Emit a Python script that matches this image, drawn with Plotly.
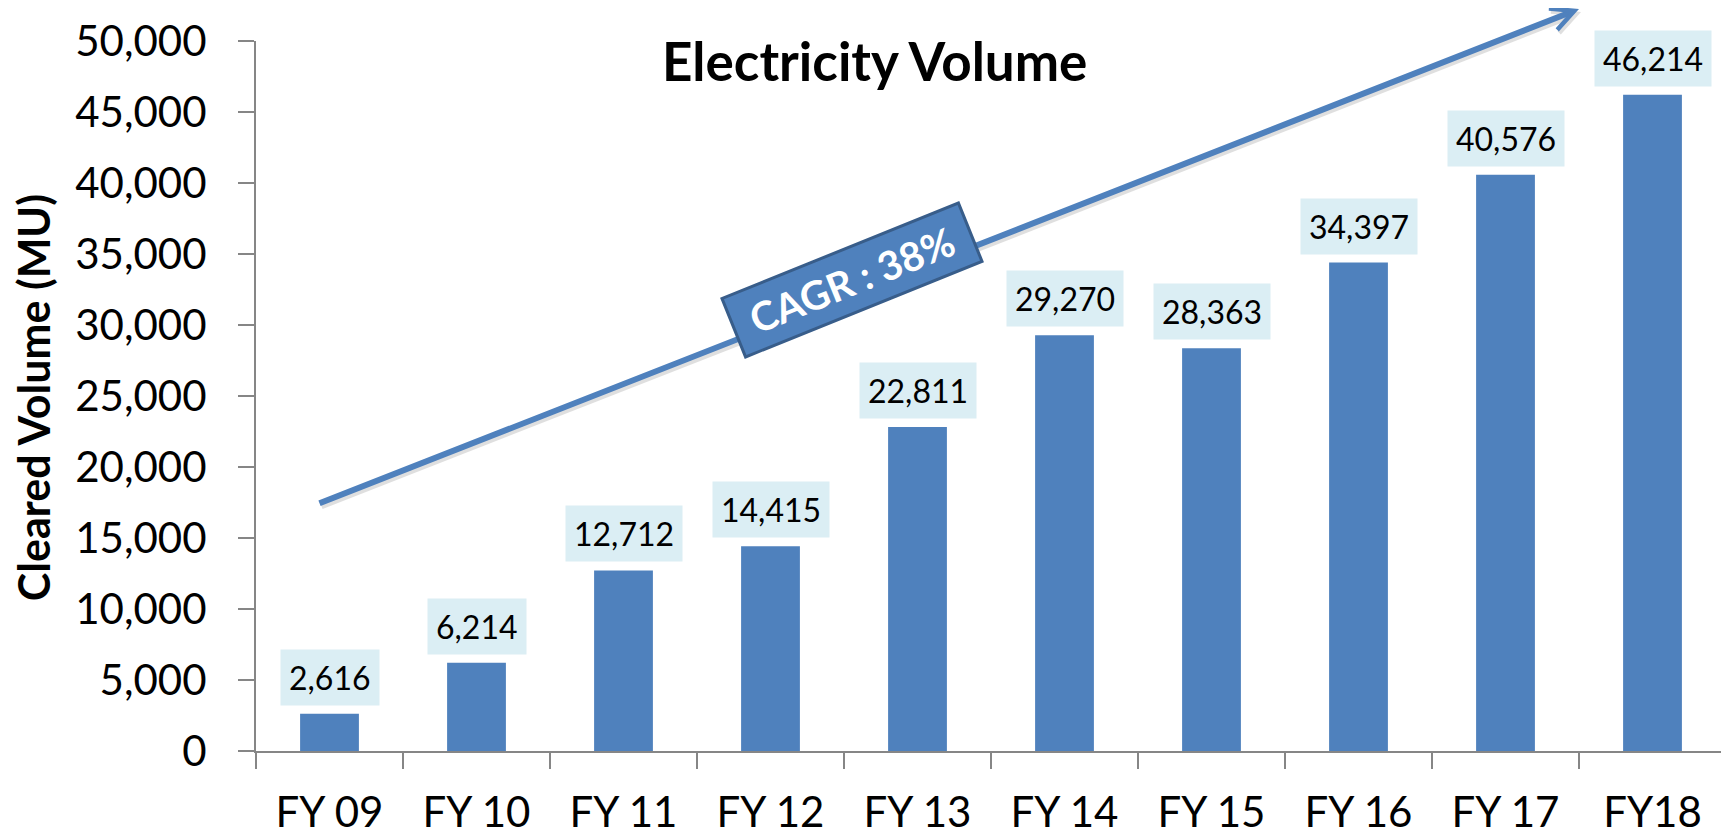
import plotly.graph_objects as go

categories = ["FY 09", "FY 10", "FY 11", "FY 12", "FY 13", "FY 14", "FY 15", "FY 16", "FY 17", "FY18"]
volumes = [2616, 6214, 12712, 14415, 22811, 29270, 28363, 34397, 40576, 46214]
y_ticks = [0, 5000, 10000, 15000, 20000, 25000, 30000, 35000, 40000, 45000, 50000]

BAR = "#4F81BD"
LABEL_BG = "#DBEEF4"
AXIS = "#868686"
FONT = "Lato"

fig = go.Figure()
fig.add_trace(go.Bar(x=categories, y=volumes, marker=dict(color=BAR, line=dict(width=0)),
                     width=0.4, hoverinfo="x+y"))

annotations = []
for c, v in zip(categories, volumes):
    annotations.append(dict(x=c, y=v, xref="x", yref="y", text=f"{v:,}", showarrow=False,
                            yanchor="bottom", yshift=8, bgcolor=LABEL_BG, borderpad=8,
                            font=dict(family=FONT, size=32, color="black")))

# arrow shadow
annotations.append(dict(x=0.9, y=1.048, xref="paper", yref="paper", ax=-1261, ay=497,
                        axref="pixel", ayref="pixel", xshift=2, yshift=-3, text="",
                        showarrow=True, arrowhead=5, arrowsize=0.75, arrowwidth=6,
                        arrowcolor="rgba(0,0,0,0.12)"))
# arrow
annotations.append(dict(x=0.9, y=1.048, xref="paper", yref="paper", ax=-1261, ay=497,
                        axref="pixel", ayref="pixel", text="",
                        showarrow=True, arrowhead=5, arrowsize=0.75, arrowwidth=6,
                        arrowcolor=BAR))
# CAGR box
annotations.append(dict(x=0.4054, y=0.6634, xref="paper", yref="paper",
                        text="<b>CAGR : 38%</b>", showarrow=False, textangle=-22,
                        width=250, height=58, bgcolor=BAR, bordercolor="#385D8A", borderwidth=3,
                        font=dict(family=FONT, size=40, color="white")))
# title
annotations.append(dict(x=0.4210, y=0.972, xref="paper", yref="paper",
                        text="<b>Electricity Volume</b>", showarrow=False,
                        xanchor="center", yanchor="middle",
                        font=dict(family=FONT, size=53, color="black")))
# y axis title
annotations.append(dict(x=-0.1517, y=0.497, xref="paper", yref="paper",
                        text="<b>Cleared Volume (MU)</b>", showarrow=False, textangle=-90,
                        xanchor="center", yanchor="middle",
                        font=dict(family=FONT, size=43, color="black")))

# page body has an 8px default margin, so the figure is 8px smaller on each axis
fig.update_layout(
    width=1721, height=828,
    margin=dict(l=248, r=3, t=33, b=85, autoexpand=False),
    paper_bgcolor="white", plot_bgcolor="white",
    showlegend=False, bargap=0.6,
    annotations=annotations,
    font=dict(family=FONT, color="black"),
)
fig.update_xaxes(type="category", showline=True, linecolor=AXIS, linewidth=2,
                 ticks="outside", tickson="boundaries", ticklen=16, tickcolor=AXIS, tickwidth=2,
                 tickfont=dict(family=FONT, size=42, color="black"), showgrid=False,
                 ticklabelstandoff=24, automargin=False)
fig.update_yaxes(range=[0, 50000], tickvals=y_ticks, ticktext=[f"{t:,}" for t in y_ticks],
                 showline=True, linecolor=AXIS, linewidth=2, ticks="outside", ticklen=16,
                 tickcolor=AXIS, tickwidth=2, showgrid=False, zeroline=False,
                 tickfont=dict(family=FONT, size=42, color="black"), ticklabelstandoff=23,
                 automargin=False)

fig.write_html("out.html")
